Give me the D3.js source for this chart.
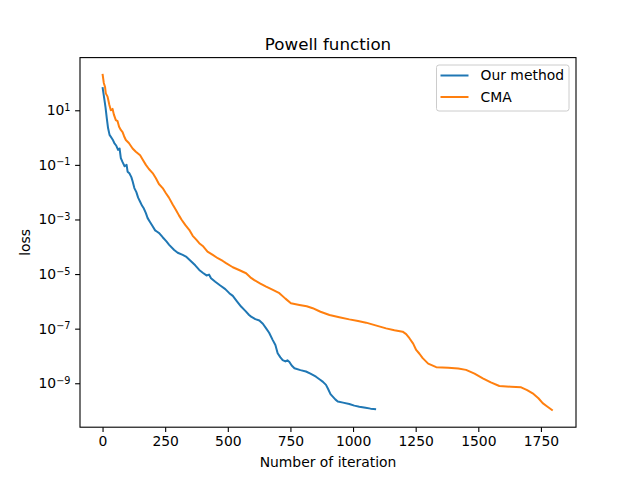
<!DOCTYPE html>
<html>
<head>
<meta charset="utf-8">
<script src="https://cdn.jsdelivr.net/npm/d3@7"></script>
<style>
  body { margin: 0; background: #fff; }
  text { font-family: "DejaVu Sans", sans-serif; fill: #000; }
</style>
</head>
<body>
<svg id="chart" width="640" height="480"></svg>
<script>
// iteration number, log10(loss)
const ourIter = [0, 4, 8, 12, 17, 22, 28, 35, 42, 47, 55, 62, 68, 73, 80, 88, 96, 100, 107, 115, 120, 127, 135, 142, 150, 158, 165, 173, 180, 190, 200, 210, 218, 226, 240, 255, 266, 286, 300, 320, 333, 350, 370, 386, 400, 415, 425, 433, 450, 470, 490, 506, 520, 535, 553, 570, 585, 593, 610, 626, 640, 653, 665, 679, 690, 699, 710, 719, 730, 738, 746, 755, 766, 790, 812, 830, 852, 870, 880, 892, 900, 910, 919, 930, 939, 960, 985, 1005, 1025, 1050, 1070, 1092];
const ourLog = [1.85, 1.6, 1.35, 1.1, 0.7, 0.35, 0.1, 0.0, -0.1, -0.2, -0.3, -0.45, -0.4, -0.75, -0.9, -1.05, -1.0, -1.25, -1.31, -1.45, -1.6, -1.85, -2.0, -2.2, -2.35, -2.5, -2.6, -2.77, -2.95, -3.1, -3.25, -3.4, -3.45, -3.5, -3.65, -3.8, -3.93, -4.12, -4.22, -4.3, -4.36, -4.5, -4.68, -4.85, -4.95, -5.05, -5.02, -5.15, -5.28, -5.42, -5.55, -5.7, -5.8, -5.98, -6.19, -6.35, -6.5, -6.56, -6.65, -6.7, -6.82, -6.99, -7.15, -7.41, -7.6, -7.9, -8.05, -8.15, -8.2, -8.16, -8.22, -8.35, -8.45, -8.52, -8.57, -8.65, -8.76, -8.88, -8.95, -9.06, -9.2, -9.4, -9.49, -9.6, -9.67, -9.71, -9.76, -9.82, -9.86, -9.9, -9.93, -9.95];

const cmaIter = [0, 5, 10, 13, 20, 27, 33, 40, 45, 53, 60, 66, 73, 80, 86, 93, 105, 120, 133, 150, 160, 173, 185, 200, 213, 225, 240, 253, 265, 280, 293, 305, 315, 330, 346, 360, 375, 386, 400, 419, 440, 460, 480, 493, 520, 545, 573, 590, 606, 630, 653, 680, 706, 730, 752, 786, 815, 839, 870, 906, 945, 985, 1020, 1052, 1090, 1132, 1165, 1198, 1212, 1225, 1240, 1252, 1265, 1278, 1300, 1332, 1380, 1420, 1451, 1485, 1518, 1550, 1584, 1630, 1671, 1695, 1717, 1740, 1757, 1775, 1797];
const cmaLog = [2.33, 2.0, 1.85, 1.62, 1.5, 1.2, 1.0, 1.05, 0.85, 0.64, 0.6, 0.4, 0.28, 0.2, 0.05, -0.09, -0.2, -0.4, -0.52, -0.65, -0.8, -1.0, -1.15, -1.3, -1.49, -1.7, -1.85, -2.04, -2.2, -2.45, -2.65, -2.85, -3.0, -3.2, -3.38, -3.6, -3.75, -3.87, -3.97, -4.18, -4.3, -4.42, -4.52, -4.6, -4.75, -4.85, -4.97, -5.12, -5.22, -5.35, -5.46, -5.58, -5.7, -5.9, -6.07, -6.13, -6.18, -6.25, -6.38, -6.5, -6.58, -6.66, -6.72, -6.78, -6.88, -6.99, -7.06, -7.11, -7.2, -7.35, -7.55, -7.78, -7.92, -8.08, -8.28, -8.41, -8.43, -8.46, -8.51, -8.65, -8.82, -8.97, -9.1, -9.13, -9.15, -9.25, -9.37, -9.55, -9.73, -9.85, -10.0];

const xTicks = [0, 250, 500, 750, 1000, 1250, 1500, 1750];
const yTickExp = [1, -1, -3, -5, -7, -9];

const seriesNames = ["Our method", "CMA"];
const seriesColors = ["#1f77b4", "#ff7f0e"];

const svg = d3.select("#chart");
const pl = 80, pr = 576, pt = 57.6, pb = 427.2;

const x = d3.scaleLinear().domain([-90, 1890]).range([pl, pr]);
const y = d3.scaleLog().domain([Math.pow(10, -10.61), Math.pow(10, 2.93)]).range([pb, pt]);

const series = [
  ourIter.map((d, i) => [d, Math.pow(10, ourLog[i])]),
  cmaIter.map((d, i) => [d, Math.pow(10, cmaLog[i])])
];

const line = d3.line().x(d => x(d[0])).y(d => y(d[1]));

svg.selectAll("path.series")
  .data(series)
  .join("path")
  .attr("class", "series")
  .attr("d", line)
  .attr("fill", "none")
  .attr("stroke", (d, i) => seriesColors[i])
  .attr("stroke-width", 2)
  .attr("stroke-linejoin", "round");

// x axis
const gx = svg.append("g").attr("transform", `translate(0,${pb})`)
  .call(d3.axisBottom(x).tickValues(xTicks).tickSize(4.9).tickPadding(4.5).tickFormat(d3.format("d")));
gx.select(".domain").remove();
gx.selectAll("text").attr("font-size", "13.9px").attr("font-family", "DejaVu Sans");
gx.selectAll("line").attr("stroke-width", 1.1);

// y axis
const gy = svg.append("g").attr("transform", `translate(${pl},0)`)
  .call(d3.axisLeft(y).tickValues(yTickExp.map(e => Math.pow(10, e))).tickSize(4.9).tickPadding(4.5).tickFormat(""));
gy.select(".domain").remove();
gy.selectAll("line").attr("stroke-width", 1.1);
gy.selectAll(".tick").each(function(d, i) {
  const t = d3.select(this).append("text")
    .attr("x", -9.5).attr("dy", "0.32em")
    .attr("text-anchor", "end")
    .attr("font-size", "13.9px")
    .attr("font-family", "DejaVu Sans");
  t.append("tspan").text("10");
  t.append("tspan").attr("dy", "-0.45em").attr("font-size", "9.7px").text((yTickExp[i] < 0 ? "\u2212" : "") + Math.abs(yTickExp[i]));
});

// frame
svg.append("rect")
  .attr("x", pl).attr("y", pt)
  .attr("width", pr - pl).attr("height", pb - pt)
  .attr("fill", "none").attr("stroke", "#000").attr("stroke-width", 1.1);

// labels
svg.append("text").attr("x", (pl + pr) / 2).attr("y", pt - 8)
  .attr("text-anchor", "middle").attr("font-size", "16.7px").text("Powell function");
svg.append("text").attr("x", (pl + pr) / 2).attr("y", 467)
  .attr("text-anchor", "middle").attr("font-size", "13.9px").text("Number of iteration");
svg.append("text").attr("transform", `translate(30,${(pt + pb) / 2}) rotate(-90)`)
  .attr("text-anchor", "middle").attr("font-size", "13.9px").text("loss");

// legend
const lg = svg.append("g").attr("transform", "translate(436.5,65)");
lg.append("rect").attr("width", 132.5).attr("height", 46).attr("rx", 2.5)
  .attr("fill", "#fff").attr("fill-opacity", 0.8).attr("stroke", "#ccc").attr("stroke-width", 1);
seriesNames.forEach((name, i) => {
  const yy = 10.5 + i * 21.5;
  lg.append("line").attr("x1", 4).attr("x2", 32).attr("y1", yy).attr("y2", yy)
    .attr("stroke", seriesColors[i]).attr("stroke-width", 2);
  lg.append("text").attr("x", 44).attr("y", yy).attr("dy", "0.35em")
    .attr("font-size", "13.9px").text(name);
});
</script>
</body>
</html>
